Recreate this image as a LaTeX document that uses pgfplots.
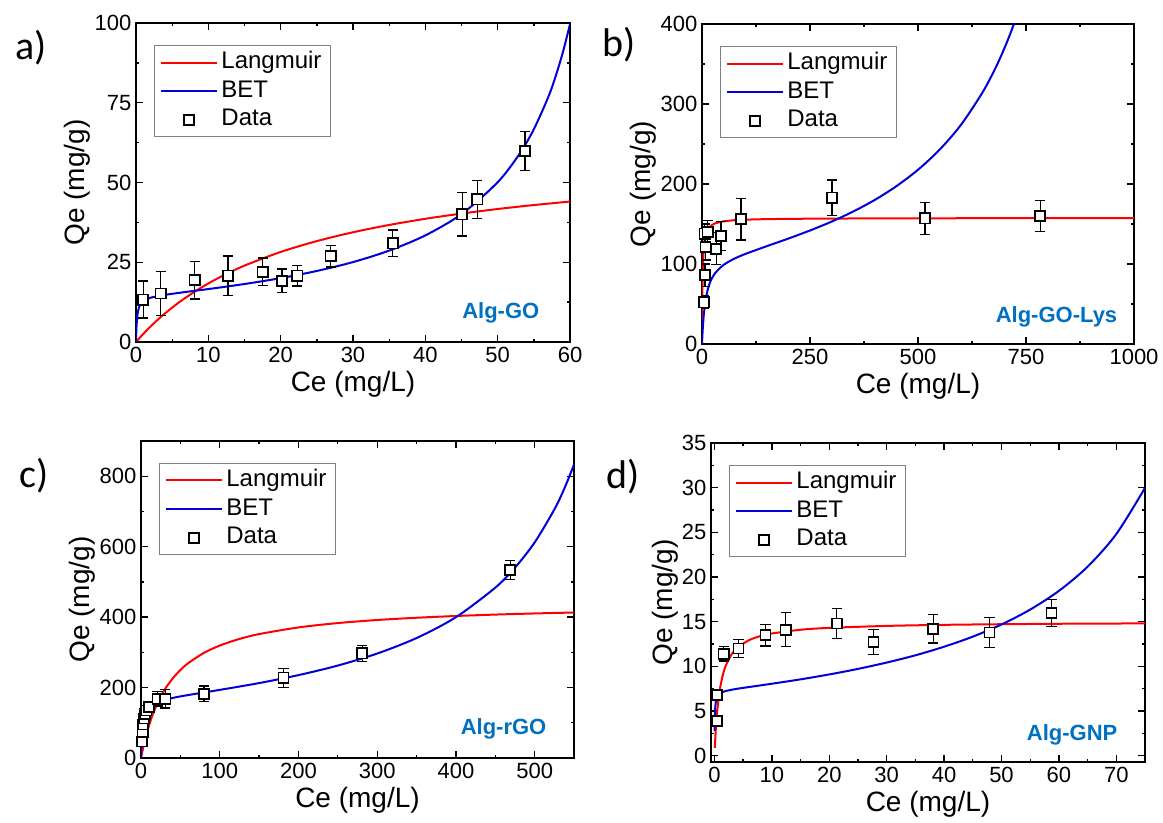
\documentclass[border=0pt]{standalone}
\usepackage{fontspec}
\setmainfont{Liberation Sans}
\newfontfamily\panelfont{Carlito}
\usepackage{pgfplots}
\pgfplotsset{compat=1.18}
\definecolor{algblue}{RGB}{0,112,192}
\definecolor{fitblue}{RGB}{0,0,215}
\definecolor{fitred}{RGB}{255,0,0}

\pgfplotsset{
  panel/.style={
    scale only axis,
    axis line style={line width=1.1pt},
    every tick/.style={black,line width=1pt},
    major tick length=5pt, minor tick length=2.6pt,
    minor x tick num=1, minor y tick num=1,
    tick align=inside, tick pos=both,
    xticklabel pos=lower, yticklabel pos=left,
    tick label style={font=\fontsize{16.5}{19}\selectfont},
    /pgf/number format/assume math mode=true,
    /pgf/number format/1000 sep={},
    label style={font=\fontsize{21}{25}\selectfont},
    xlabel={Ce (mg/L)}, ylabel={Qe (mg/g)},
    ylabel shift=-4pt,
    legend cell align=left,
    legend style={at={(0.042,0.93)}, anchor=north west, draw=black!50,
      line width=0.8pt, fill=white, font=\fontsize{18}{21}\selectfont,
      inner xsep=4pt, inner ysep=2pt, row sep=0.5pt,
      nodes={inner sep=2.5pt, text height=12.5pt, text depth=3.5pt}},
    legend image code/.code={\draw[#1] (0pt,0pt) -- (42pt,0pt);},
  },
  langmuir/.style={fitred, line width=1.5pt, mark=none, smooth},
  bet/.style={fitblue, line width=1.5pt, mark=none, smooth},
  data/.style={only marks, mark=square*, mark size=3.8pt,
    mark options={fill=white, draw=black, line width=1.3pt},
    legend image code/.code={\draw[draw=none] (0pt,0pt) -- (42pt,0pt);
      \filldraw[draw=black, fill=white, line width=1.3pt] (17.2pt,-3.8pt) rectangle (24.8pt,3.8pt);},
    error bars/.cd, y dir=both, y explicit,
    error bar style={black, line width=1pt},
    error mark options={rotate=90, black, line width=1pt, mark size=3.8pt}},
}
\tikzset{tag/.style={anchor=base east, text=algblue, font=\bfseries\fontsize{16.5}{19}\selectfont},
  plabel/.style={anchor=base west, font=\panelfont\fontsize{30}{34}\selectfont}}

\begin{document}
\begin{tikzpicture}
% ---------------- a) Alg-GO
\begin{axis}[panel, at={(102pt,360pt)}, anchor=south west, width=325.5pt, height=239.25pt,
  xmin=0, xmax=60, ymin=0, ymax=100, xtick={0,10,...,60}, ytick={0,25,...,100}]
\addplot[langmuir] coordinates {(0,0)(0.5,1.284)(1,2.516)(2,4.833)(3,6.97)(4,8.958)(6,12.52)(8,15.62)(10,18.35)(12,20.78)(15,23.94)(20,28.23)(25,31.63)(30,34.40)(35,36.69)(40,38.62)(45,40.26)(50,41.69)(55,42.93)(60,44.02)};
\addlegendentry{Langmuir}
\addplot[bet] coordinates {(0,0)(0.03,2.54)(0.05,3.79)(0.1,5.84)(0.2,8.50)(0.3,9.87)(0.45,11.07)(0.6,11.8)(1,12.83)(2,13.88)(4,14.77)(6,15.42)(8,16.02)(10,16.59)(15,18.18)(20,20.02)(25,22.27)(30,25.05)(35,28.65)(40,33.42)(45,40.09)(50,50.08)(53,58.9)(55,66.7)(57,76.8)(58,83.2)(59,90.7)(60,99.6)};
\addlegendentry{BET}
\addplot[data] coordinates {
  (1.0,13.3) +- (0,5.8)
  (3.4,15.2) +- (0,6.8)
  (8.1,19.4) +- (0,5.9)
  (12.7,20.8) +- (0,6.2)
  (17.5,22.0) +- (0,4.3)
  (20.2,19.2) +- (0,3.7)
  (22.3,20.8) +- (0,3.2)
  (26.9,26.9) +- (0,3.4)
  (35.5,30.9) +- (0,4.2)
  (45.1,40.0) +- (0,6.8)
  (47.2,44.7) +- (0,5.9)
  (53.8,59.9) +- (0,6.1)
};
\addlegendentry{Data}
\node[tag] at (rel axis cs:0.94,0.075) {Alg-GO};
\end{axis}

% ---------------- b) Alg-GO-Lys
\begin{axis}[panel, at={(526.5pt,358.5pt)}, anchor=south west, width=324pt, height=240pt,
  xmin=0, xmax=1000, ymin=0, ymax=400, xtick={0,250,...,1000}, ytick={0,100,...,400}]
\addplot[langmuir] coordinates {(0.3,28.45)(0.5,42.3)(1,66.7)(2,93.7)(3,108.4)(5,123.8)(7,131.9)(10,138.6)(15,144.4)(20,147.5)(30,150.7)(50,153.3)(75,154.7)(100,155.4)(150,156.1)(200,156.4)(300,156.8)(500,157.1)(750,157.3)(1000,157.3)};
\addlegendentry{Langmuir}
\addplot[bet] coordinates {(0,0)(0.5,6.17)(1,11.69)(2,21.14)(4,35.53)(7,50.2)(10,60.2)(15,71.4)(20,78.8)(30,88.3)(50,98.9)(75,106.7)(100,112.5)(150,122.3)(200,131.8)(250,141.9)(300,153.0)(350,165.6)(400,180.1)(450,197.3)(500,217.8)(550,242.9)(600,274.3)(650,315.1)(680,345.7)(700,369.7)(715,389.8)(725,404.6)};
\addlegendentry{BET}
\addplot[data] coordinates {
  (5,52) +- (0,8)
  (7,86) +- (0,14)
  (8,121) +- (0,16)
  (6,138) +- (0,12)
  (13,140) +- (0,14)
  (33,119) +- (0,20)
  (44,135) +- (0,18)
  (90,156) +- (0,26)
  (301,183) +- (0,22)
  (516,157) +- (0,20)
  (783,160) +- (0,19)
};
\addlegendentry{Data}
\node[tag] at (rel axis cs:0.972,0.066) {Alg-GO-Lys};
\end{axis}

% ---------------- c) Alg-rGO
\begin{axis}[panel, at={(105.75pt,48pt)}, anchor=south west, width=324.75pt, height=237.75pt,
  xmin=0, xmax=550, ymin=0, ymax=900, xtick={0,100,...,500}, ytick={0,200,...,800}]
\addplot[langmuir] coordinates {(0,0)(2,21.85)(5,50.85)(10,91.2)(15,124.0)(20,151.2)(30,193.7)(40,225.3)(50,249.8)(60,269.3)(80,298.5)(100,319.2)(125,338.0)(150,351.8)(200,370.7)(250,383.1)(300,391.8)(350,398.2)(400,403.2)(450,407.2)(500,410.4)(550,413.1)};
\addlegendentry{Langmuir}
\addplot[bet] coordinates {(0,0)(0.5,34.1)(1,56.8)(2,85.1)(4,113.6)(6,128.0)(8,136.8)(12,147.3)(20,158.0)(30,165.4)(50,174.9)(75,184.3)(100,193.4)(150,212.7)(200,235.3)(250,262.5)(300,296.6)(350,340.6)(400,399.8)(450,483.7)(475,540.4)(500,612.0)(525,705.6)(537.5,763.8)(550,832.9)};
\addlegendentry{BET}
\addplot[data] coordinates {
  (1.5,47) +- (0,10)
  (2,75) +- (0,12)
  (2.5,95) +- (0,12)
  (3.5,112) +- (0,12)
  (5,125) +- (0,12)
  (7,135) +- (0,12)
  (10,145) +- (0,12)
  (21,168) +- (0,20)
  (31,168) +- (0,26)
  (80,182) +- (0,22)
  (181,228) +- (0,27)
  (281,297) +- (0,23)
  (469,534) +- (0,27)
};
\addlegendentry{Data}
\node[tag] at (rel axis cs:0.947,0.073) {Alg-rGO};
\end{axis}

% ---------------- d) Alg-GNP
\begin{axis}[panel, at={(533.25pt,45pt)}, anchor=south west, width=325.5pt, height=239.25pt,
  xmin=-0.6, xmax=75, ymin=-0.7, ymax=35, xtick={0,10,...,70}, ytick={0,5,...,35}]
\addplot[langmuir] coordinates {(0.06,0.881)(0.15,2.024)(0.3,3.567)(0.5,5.132)(0.75,6.573)(1,7.647)(1.5,9.141)(2,10.13)(3,11.36)(4,12.09)(6,12.93)(8,13.39)(10,13.68)(15,14.10)(20,14.31)(30,14.53)(40,14.65)(50,14.72)(60,14.77)(75,14.81)};
\addlegendentry{Langmuir}
\addplot[bet] coordinates {(0.03,2.75)(0.06,3.99)(0.1,4.88)(0.2,5.85)(0.4,6.51)(0.7,6.85)(1,7.01)(2,7.25)(4,7.50)(7,7.78)(10,8.06)(15,8.55)(20,9.10)(25,9.72)(30,10.43)(35,11.24)(40,12.20)(45,13.33)(50,14.69)(55,16.36)(60,18.45)(65,21.16)(70,24.81)(75,29.98)};
\addlegendentry{BET}
\addplot[data] coordinates {
  (0.4,3.9) +- (0,0.5)
  (0.4,6.8) +- (0,0.5)
  (1.6,11.4) +- (0,0.8)
  (4.2,12.0) +- (0,1.0)
  (8.9,13.5) +- (0,1.2)
  (12.4,14.1) +- (0,1.9)
  (21.3,14.8) +- (0,1.7)
  (27.7,12.7) +- (0,1.4)
  (38.1,14.2) +- (0,1.6)
  (47.9,13.8) +- (0,1.7)
  (58.7,16.0) +- (0,1.5)
};
\addlegendentry{Data}
\node[tag] at (rel axis cs:0.947,0.066) {Alg-GNP};
\end{axis}

\node[plabel] at (8.25pt,571.5pt) {a)};
\node[plabel] at (448.5pt,573.75pt) {b)};
\node[plabel] at (11.25pt,251.25pt) {c)};
\node[plabel] at (451.5pt,250.5pt) {d)};

\pgfresetboundingbox
\useasboundingbox (0pt,0pt) rectangle (872.25pt,616.5pt);
\end{tikzpicture}
\end{document}
